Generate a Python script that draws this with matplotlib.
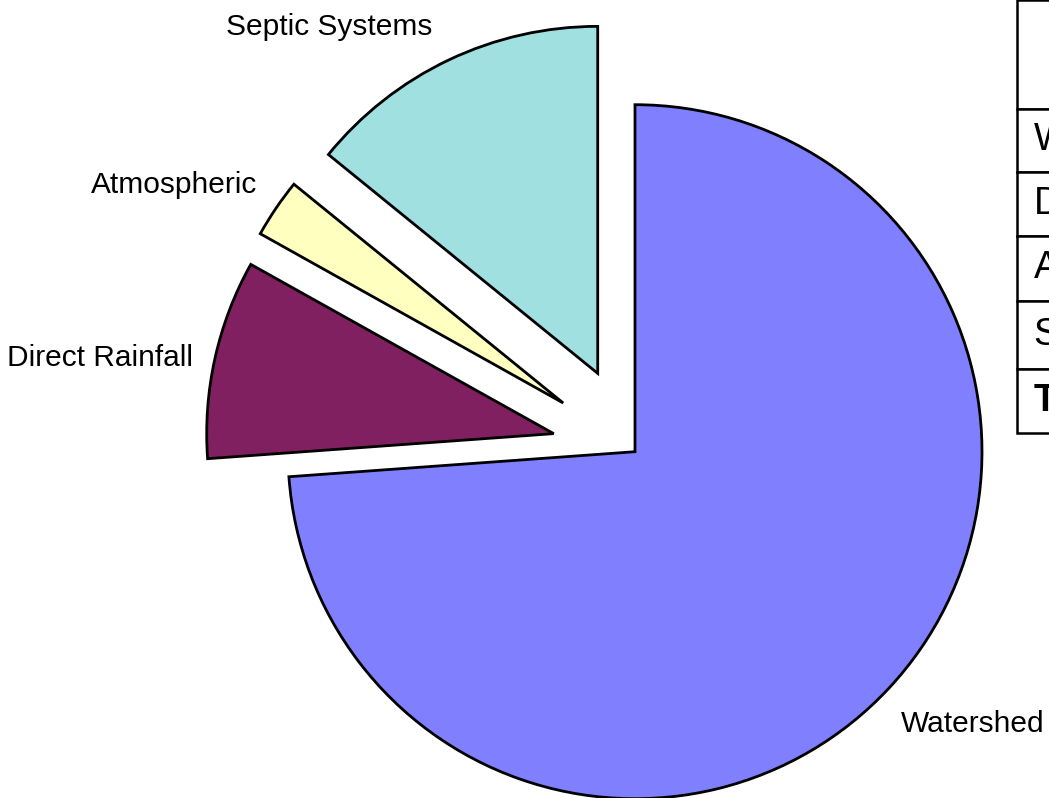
"""Nutrient load by source: exploded pie with a (clipped) summary table on the right."""
import matplotlib
matplotlib.use("Agg")
import matplotlib.pyplot as plt
from matplotlib.patches import Rectangle

# slice data, clockwise from 12 o'clock
sources = ["Watershed", "Direct Rainfall", "Atmospheric", "Septic Systems"]
shares = [73.85, 9.26, 2.75, 14.14]
explode = [0.0, 0.24, 0.25, 0.25]   # fraction of radius
colors = ["#8080FF", "#802060", "#FFFFC0", "#A0E0E0"]

# table rows (only the first letter is visible inside the frame)
table_rows = ["Watershed", "Direct Rainfall", "Atmospheric", "Septic Systems", "Total"]

W, H = 1049, 798
plt.rcParams["font.family"] = ["Liberation Sans", "DejaVu Sans"]

fig = plt.figure(figsize=(W / 100, H / 100), dpi=100)
ax = fig.add_axes([0, 0, 1, 1])

# work in pixel-like data units (y measured from bottom)
cx, cy, r = 635, H - 451.7, 347
# pie() takes explode in data units, so scale by the radius
ax.pie(
    shares, explode=[e * r for e in explode], colors=colors,
    startangle=90, counterclock=False, center=(cx, cy), radius=r,
    wedgeprops=dict(edgecolor="black", linewidth=2.0, joinstyle="miter"),
)
ax.set_xlim(0, W)
ax.set_ylim(0, H)
ax.set_aspect("equal")
ax.axis("off")

# slice labels
lab_kw = dict(fontsize=21.5, color="black", va="baseline")
ax.text(329, H - 35, "Septic Systems", ha="center", **lab_kw)
ax.text(257, H - 193, "Atmospheric", ha="right", **lab_kw)
ax.text(193, H - 366, "Direct Rainfall", ha="right", **lab_kw)
ax.text(901, H - 732, "Watershed", ha="left", **lab_kw)

# summary table, runs off the right edge
tx, tw = 1017, 400
edges = [0, 109, 172, 236, 301, 369, 433]
for i in range(len(edges) - 1):
    top, bot = edges[i], edges[i + 1]
    ax.add_patch(Rectangle((tx, H - bot), tw, bot - top, facecolor="white",
                           edgecolor="black", linewidth=1.8, clip_on=False))
    if i == 0:
        continue
    name = table_rows[i - 1]
    ax.text(tx + 17, H - (top + bot) / 2, name, ha="left", va="center",
            fontsize=27, fontweight="bold" if name == "Total" else "normal")

fig.savefig("out.png", dpi=100, facecolor="white")
